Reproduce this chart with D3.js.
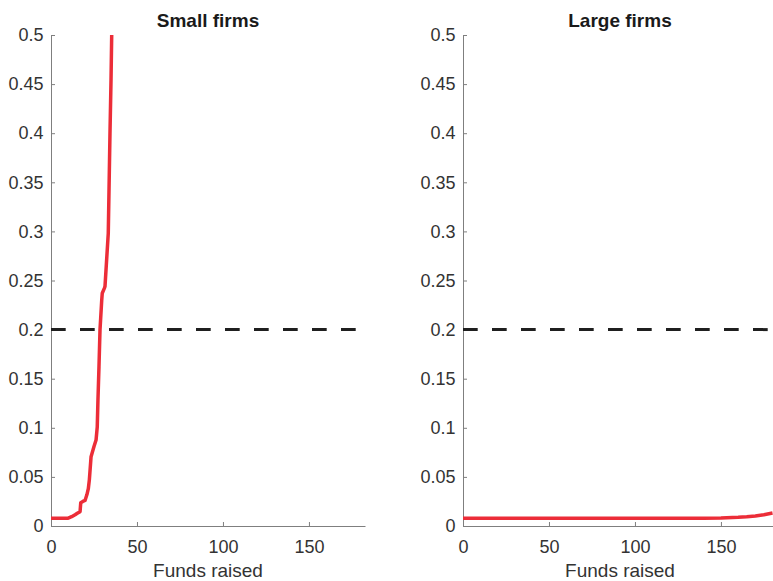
<!DOCTYPE html>
<html>
<head>
<meta charset="utf-8">
<script src="https://cdn.jsdelivr.net/npm/d3@7"></script>
<style>
  html, body { margin: 0; padding: 0; background: #fff; }
  svg { display: block; font-family: "Liberation Sans", Arial, Helvetica, sans-serif; }
</style>
</head>
<body>
<svg id="chart" width="773" height="581"></svg>
<script>
// ---- data ----
const panelTitles = ["Small firms", "Large firms"];
const xLabel = "Funds raised";
const xTicks = [0, 50, 100, 150];
const yTicks = [0, 0.05, 0.1, 0.15, 0.2, 0.25, 0.3, 0.35, 0.4, 0.45, 0.5];
const threshold = 0.2;

const smallFunds = [0, 5, 10, 12, 14, 15.3, 16.9, 17.3, 18.5, 19.8, 20.9, 21.7, 22.3, 23.3, 25, 26.2, 26.9, 27.3, 27.9, 28.5, 29.5, 29.8, 31, 31.4, 33.3, 33.5, 34.3, 34.9, 35.3];
const smallProb  = [0.008, 0.008, 0.008, 0.0095, 0.0115, 0.013, 0.0146, 0.0237, 0.025, 0.026, 0.032, 0.038, 0.047, 0.0706, 0.081, 0.0876, 0.101, 0.128, 0.162, 0.2, 0.23, 0.237, 0.242, 0.244, 0.298, 0.318, 0.4, 0.454, 0.5];

const largeFunds = [0, 50, 100, 140, 150, 160, 165, 170, 175, 180];
const largeProb  = [0.008, 0.008, 0.008, 0.008, 0.0082, 0.0088, 0.0094, 0.0102, 0.0115, 0.0133];

const xDomain = [0, 182.6];
const yDomain = [0, 0.5];

// ---- layout ----
const svg = d3.select("#chart");
const panels = [
  { left: 51, right: 365, funds: smallFunds, prob: smallProb },
  { left: 463, right: 777, funds: largeFunds, prob: largeProb }
];
const plotTop = 35, plotBottom = 526;
const axisColor = "#7f7f7f";
const textColor = "#333333";
const red = "#ec2d38";

const fmt = v => String(+v.toFixed(2));

panels.forEach((p, i) => {
  const x = d3.scaleLinear().domain(xDomain).range([p.left, p.right]);
  const y = d3.scaleLinear().domain(yDomain).range([plotBottom, plotTop]);
  const g = svg.append("g");

  const clipId = "clip" + i;
  svg.append("clipPath").attr("id", clipId)
    .append("rect").attr("x", p.left).attr("y", plotTop - 1)
    .attr("width", p.right - p.left).attr("height", plotBottom - plotTop + 2);

  // y axis (ticks inward)
  const yAxis = d3.axisLeft(y).tickValues(yTicks).tickFormat(fmt)
    .tickSizeInner(-4).tickSizeOuter(0).tickPadding(8);
  const ya = g.append("g").attr("transform", `translate(${p.left},0)`).call(yAxis);
  // x axis (ticks inward)
  const xAxis = d3.axisBottom(x).tickValues(xTicks).tickFormat(d3.format("d"))
    .tickSizeInner(-4).tickSizeOuter(0).tickPadding(11);
  const xa = g.append("g").attr("transform", `translate(0,${plotBottom})`).call(xAxis);

  [ya, xa].forEach(a => {
    a.select(".domain").attr("stroke", axisColor).attr("stroke-width", 1);
    a.selectAll(".tick line").attr("stroke", axisColor).attr("stroke-width", 1);
    a.selectAll(".tick text").attr("fill", textColor)
      .style("font-size", "18px").style("font-family", '"Liberation Sans", Arial, sans-serif');
  });
  ya.selectAll(".tick text").attr("x", -7.5);
  xa.selectAll(".tick text").attr("dy", "0").attr("y", 27);

  // threshold dashed line
  g.append("line")
    .attr("x1", x(0)).attr("x2", x(180))
    .attr("y1", y(threshold)).attr("y2", y(threshold))
    .attr("stroke", "#1f1f1f").attr("stroke-width", 3)
    .attr("stroke-dasharray", "14.7,14.3");

  // red curve
  const data = p.funds.map((f, k) => [f, p.prob[k]]);
  g.append("path").datum(data)
    .attr("clip-path", `url(#${clipId})`)
    .attr("fill", "none").attr("stroke", red).attr("stroke-width", 3.5)
    .attr("stroke-linejoin", "round")
    .attr("d", d3.line().x(d => x(d[0])).y(d => y(d[1])));

  // title
  g.append("text")
    .attr("x", (p.left + p.right) / 2).attr("y", 27)
    .attr("text-anchor", "middle")
    .attr("font-weight", "bold").attr("font-size", 19)
    .attr("fill", "#1a1a1a")
    .text(panelTitles[i]);

  // x label
  g.append("text")
    .attr("x", (p.left + p.right) / 2).attr("y", 577)
    .attr("text-anchor", "middle")
    .attr("font-size", 19).attr("fill", textColor)
    .text(xLabel);
});
</script>
</body>
</html>
